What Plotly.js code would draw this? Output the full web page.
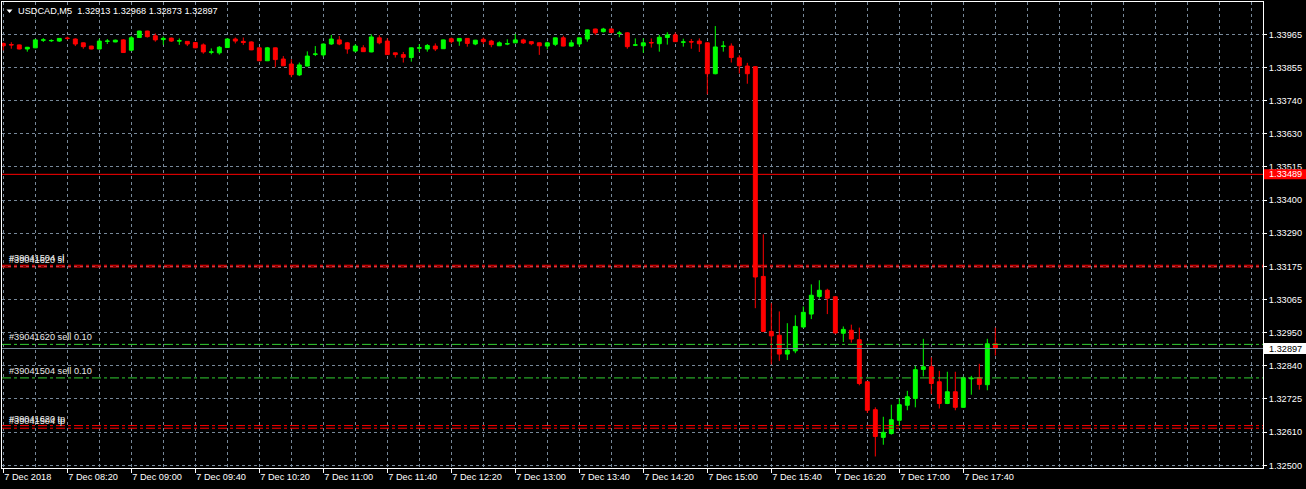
<!DOCTYPE html>
<html><head><meta charset="utf-8">
<script src="https://cdn.plot.ly/plotly-3.0.1.min.js"></script>
<style>html,body{margin:0;padding:0;background:#000;}#chart{width:1306px;height:489px;}</style>
</head><body><div id="chart"></div>
<script>
// ---- data ----
const symbol = 'USDCAD,M5';
const startTime = Date.UTC(2018, 11, 7, 7, 40);   // first bar open time
const barMinutes = 5;

const open = [1.33934,1.33930,1.33929,1.33915,1.33919,1.33945,1.33943,1.33942,1.33952,1.33949,
1.33936,1.33925,1.33915,1.33941,1.33939,1.33946,1.33911,1.33954,1.33976,1.33960,
1.33947,1.33952,1.33942,1.33941,1.33937,1.33929,1.33904,1.33902,1.33920,1.33949,
1.33941,1.33939,1.33919,1.33875,1.33919,1.33881,1.33864,1.33827,1.33857,1.33897,
1.33895,1.33932,1.33946,1.33936,1.33908,1.33919,1.33905,1.33953,1.33942,1.33902,
1.33896,1.33886,1.33918,1.33915,1.33925,1.33916,1.33950,1.33942,1.33951,1.33932,
1.33948,1.33942,1.33926,1.33932,1.33936,1.33946,1.33940,1.33936,1.33925,1.33931,
1.33953,1.33925,1.33932,1.33949,1.33983,1.33974,1.33983,1.33968,1.33970,1.33928,
1.33926,1.33937,1.33933,1.33954,1.33963,1.33938,1.33940,1.33942,1.33936,1.33831,
1.33924,1.33925,1.33885,1.33857,1.33855,1.33142,1.32955,1.32942,1.32878,1.32889,
1.32970,1.33014,1.33074,1.33095,1.33073,1.32949,1.32959,1.32927,1.32784,1.32689,
1.32595,1.32608,1.32653,1.32704,1.32727,1.32826,1.32835,1.32784,1.32710,1.32750,
1.32697,1.32794,1.32798,1.32774,1.32913];
const high = [1.33937,1.33938,1.33930,1.33922,1.33947,1.33952,1.33948,1.33952,1.33957,1.33951,
1.33937,1.33926,1.33950,1.33949,1.33947,1.33949,1.33959,1.33977,1.33977,1.33968,
1.33958,1.33954,1.33951,1.33942,1.33939,1.33934,1.33917,1.33925,1.33951,1.33954,
1.33954,1.33941,1.33920,1.33922,1.33920,1.33891,1.33880,1.33869,1.33907,1.33925,
1.33934,1.33963,1.33959,1.33939,1.33931,1.33928,1.33965,1.33962,1.33951,1.33902,
1.33905,1.33920,1.33932,1.33932,1.33934,1.33947,1.33954,1.33952,1.33952,1.33946,
1.33954,1.33946,1.33941,1.33948,1.33966,1.33950,1.33941,1.33937,1.33940,1.33954,
1.33960,1.33946,1.33954,1.33981,1.33984,1.33987,1.33985,1.33976,1.33972,1.33951,
1.33951,1.33951,1.33963,1.33972,1.33971,1.33950,1.33949,1.33951,1.33937,1.33993,
1.33942,1.33934,1.33894,1.33868,1.33857,1.33285,1.33051,1.33023,1.32983,1.33010,
1.33040,1.33115,1.33129,1.33100,1.33075,1.32972,1.32978,1.32968,1.32786,1.32697,
1.32665,1.32706,1.32728,1.32753,1.32838,1.32930,1.32867,1.32821,1.32818,1.32818,
1.32802,1.32804,1.32845,1.32930,1.32968];
const low = [1.33910,1.33916,1.33914,1.33906,1.33918,1.33939,1.33939,1.33939,1.33946,1.33925,
1.33916,1.33914,1.33914,1.33932,1.33938,1.33902,1.33909,1.33953,1.33954,1.33940,
1.33929,1.33939,1.33929,1.33925,1.33918,1.33899,1.33897,1.33896,1.33919,1.33934,
1.33929,1.33911,1.33874,1.33874,1.33853,1.33857,1.33819,1.33823,1.33856,1.33891,
1.33889,1.33929,1.33928,1.33899,1.33904,1.33905,1.33904,1.33931,1.33895,1.33886,
1.33869,1.33872,1.33905,1.33906,1.33908,1.33915,1.33934,1.33926,1.33923,1.33928,
1.33932,1.33921,1.33925,1.33928,1.33935,1.33932,1.33928,1.33895,1.33914,1.33925,
1.33924,1.33923,1.33923,1.33940,1.33963,1.33971,1.33968,1.33955,1.33916,1.33925,
1.33902,1.33920,1.33906,1.33930,1.33939,1.33923,1.33916,1.33905,1.33761,1.33829,
1.33906,1.33869,1.33832,1.33797,1.33034,1.32953,1.32843,1.32855,1.32858,1.32881,
1.32968,1.32997,1.33066,1.33014,1.32947,1.32919,1.32917,1.32772,1.32678,1.32530,
1.32570,1.32604,1.32634,1.32687,1.32697,1.32802,1.32742,1.32693,1.32708,1.32687,
1.32695,1.32740,1.32757,1.32755,1.32873];
const close = [1.33926,1.33929,1.33915,1.33921,1.33946,1.33946,1.33944,1.33951,1.33951,1.33932,
1.33923,1.33915,1.33942,1.33942,1.33945,1.33903,1.33953,1.33976,1.33957,1.33946,
1.33951,1.33942,1.33943,1.33932,1.33919,1.33905,1.33905,1.33921,1.33949,1.33942,
1.33937,1.33912,1.33875,1.33919,1.33879,1.33858,1.33828,1.33861,1.33891,1.33898,
1.33932,1.33949,1.33932,1.33915,1.33925,1.33906,1.33956,1.33936,1.33896,1.33896,
1.33887,1.33919,1.33919,1.33927,1.33915,1.33946,1.33940,1.33951,1.33934,1.33945,
1.33940,1.33930,1.33936,1.33933,1.33946,1.33936,1.33933,1.33926,1.33936,1.33953,
1.33925,1.33936,1.33953,1.33980,1.33970,1.33983,1.33971,1.33969,1.33923,1.33929,
1.33936,1.33936,1.33955,1.33963,1.33940,1.33939,1.33939,1.33933,1.33831,1.33922,
1.33925,1.33886,1.33858,1.33831,1.33140,1.32955,1.32940,1.32878,1.32891,1.32972,
1.33020,1.33078,1.33095,1.33068,1.32950,1.32962,1.32929,1.32778,1.32687,1.32598,
1.32612,1.32655,1.32706,1.32733,1.32825,1.32835,1.32778,1.32710,1.32750,1.32697,
1.32798,1.32796,1.32775,1.32913,1.32897];

const yTickLabels = ['1.32500','1.32610','1.32725','1.32840','1.32950','1.33065','1.33175',
  '1.33290','1.33400','1.33515','1.33630','1.33740','1.33855','1.33965'];
const xTickLabels = ['7 Dec 2018','7 Dec 08:20','7 Dec 09:00','7 Dec 09:40','7 Dec 10:20',
  '7 Dec 11:00','7 Dec 11:40','7 Dec 12:20','7 Dec 13:00','7 Dec 13:40','7 Dec 14:20',
  '7 Dec 15:00','7 Dec 15:40','7 Dec 16:20','7 Dec 17:00','7 Dec 17:40'];

const levelPrice = 1.33489;   // horizontal red level
const bidPrice = 1.32897;     // current bid
const orderLabels = ['#39041620 sell 0.10', '#39041504 sell 0.10'];
const orderPrices = [1.32911, 1.32797];
const slLabels = ['#39041620 sl', '#39041504 sl'];
const slPrices = [1.33174, 1.33180];
const tpLabels = ['#39041504 tp', '#39041620 tp'];
const tpPrices = [1.32626, 1.32635];

// ---- helpers ----
const MIN = 60000;
function fmt(ms){
  const d = new Date(ms);
  const p = n => String(n).padStart(2,'0');
  return d.getUTCFullYear()+'-'+p(d.getUTCMonth()+1)+'-'+p(d.getUTCDate())+' '+
    p(d.getUTCHours())+':'+p(d.getUTCMinutes())+':'+p(d.getUTCSeconds());
}
const times = open.map((_, i) => fmt(startTime + i*barMinutes*MIN));
const labelTimes = xTickLabels.map((_, i) => fmt(startTime + i*40*MIN));
const xRange = [fmt(startTime - 0.1625*barMinutes*MIN), fmt(startTime + 157.46*barMinutes*MIN)];
const yBottom = 1.32500, yTopTick = 1.33965;
const yTickVals = yTickLabels.map((_, i) => yBottom + i*(yTopTick - yBottom)/(yTickLabels.length-1));
const pxPrice = (yTopTick - yBottom) / 431;   // price per pixel
const yRange = [yBottom - 2.7*pxPrice, yBottom + 463.3*pxPrice];

const FONT = 'Liberation Sans, Arial, sans-serif';
const GRID = '#778899';
const px2paperX = x => (x - 2) / 1261;

const shapes = [];
const annotations = [];

function hline(y, color, dash){
  shapes.push({type:'line', xref:'paper', x0:0, x1:1, yref:'y', y0:y, y1:y,
    line:{color:color, width:1, dash:dash||'solid'}, layer:'above'});
}
const DASHDOT = '9px,3px,3px,3px';
slPrices.forEach(p => hline(p, '#ff0000', DASHDOT));
tpPrices.forEach(p => hline(p, '#ff0000', DASHDOT));
orderPrices.forEach(p => hline(p, '#32cd32', DASHDOT));
hline(bidPrice, GRID, 'solid');
hline(levelPrice, '#ff0000', 'solid');

function label(text, price){
  annotations.push({xref:'paper', x:px2paperX(7), xanchor:'left', yref:'y', y:price,
    yanchor:'bottom', yshift:0, text:text, showarrow:false,
    font:{family:FONT, size:9.2, color:'#e8e8e8'}});
}
orderLabels.forEach((t,i) => label(t, orderPrices[i]));
slLabels.forEach((t,i) => label(t, slPrices[i]));
tpLabels.forEach((t,i) => label(t, tpPrices[i]));

// price boxes on the axis
function priceBox(price, bg, fg, halfPx){
  shapes.push({type:'rect', xref:'paper', x0:px2paperX(1264), x1:px2paperX(1306),
    yref:'y', y0:price - halfPx*pxPrice, y1:price + halfPx*pxPrice,
    fillcolor:bg, line:{width:0}, layer:'above'});
  annotations.push({xref:'paper', x:px2paperX(1285), xanchor:'center', yref:'y', y:price,
    yanchor:'middle', text:price.toFixed(5), showarrow:false,
    font:{family:FONT, size:9.2, color:fg}});
}
priceBox(levelPrice, '#ff0000', '#ffffff', 5);
priceBox(bidPrice, '#ffffff', '#000000', 5.5);

// title with triangle
shapes.push({type:'path', xref:'paper', yref:'paper',
  path:'M '+px2paperX(6.5)+' '+(1-(9.5-2)/466)+' L '+px2paperX(12.5)+' '+(1-(9.5-2)/466)+
       ' L '+px2paperX(9.5)+' '+(1-(13-2)/466)+' Z',
  fillcolor:'#ffffff', line:{width:0}, layer:'above'});
annotations.push({xref:'paper', x:px2paperX(16), xanchor:'left', yref:'paper',
  y:1-(11-2)/466, yanchor:'middle', showarrow:false,
  text:symbol+'  '+[open[open.length-1],high[high.length-1],low[low.length-1],close[close.length-1]].map(v=>v.toFixed(5)).join(' '),
  font:{family:FONT, size:9.2, color:'#ffffff'}});

const trace = {
  type:'candlestick', x:times, open:open, high:high, low:low, close:close,
  increasing:{line:{color:'#00ff00', width:1}, fillcolor:'#00ff00'},
  decreasing:{line:{color:'#ff0000', width:1}, fillcolor:'#ff0000'},
  whiskerwidth:0, hoverinfo:'skip', showlegend:false
};

const layout = {
  width:1306, height:489,
  paper_bgcolor:'#000000', plot_bgcolor:'#000000',
  margin:{l:2, r:43, t:2, b:21, pad:0},
  showlegend:false,
  font:{family:FONT, size:9.2, color:'#ffffff'},
  xaxis:{
    type:'date', range:xRange, tickmode:'array', tickvals:labelTimes, ticktext:xTickLabels,
    ticks:'outside', ticklen:4, tickcolor:'#ffffff', tickwidth:1,
    ticklabelposition:'outside right',
    showgrid:true, gridcolor:GRID, griddash:'3px,3px', gridwidth:1,
    minor:{tickmode:'linear', tick0:fmt(startTime), dtick:20*MIN, showgrid:true,
      gridcolor:GRID, griddash:'3px,3px', gridwidth:1, ticks:''},
    showline:true, linecolor:'#ffffff', linewidth:1, mirror:true,
    zeroline:false, rangeslider:{visible:false}, fixedrange:true,
    tickfont:{family:FONT, size:9.2, color:'#ffffff'}
  },
  yaxis:{
    side:'right', range:yRange, tickmode:'array', tickvals:yTickVals, ticktext:yTickLabels,
    ticks:'outside', ticklen:3, tickcolor:'#ffffff', tickwidth:1,
    showgrid:true, gridcolor:GRID, griddash:'3px,3px', gridwidth:1,
    showline:true, linecolor:'#ffffff', linewidth:1, mirror:true,
    zeroline:false, fixedrange:true,
    tickfont:{family:FONT, size:9.2, color:'#ffffff'}
  },
  shapes:shapes,
  annotations:annotations
};

Plotly.newPlot('chart', [trace], layout, {displayModeBar:false, staticPlot:true});
</script>
</body></html>
